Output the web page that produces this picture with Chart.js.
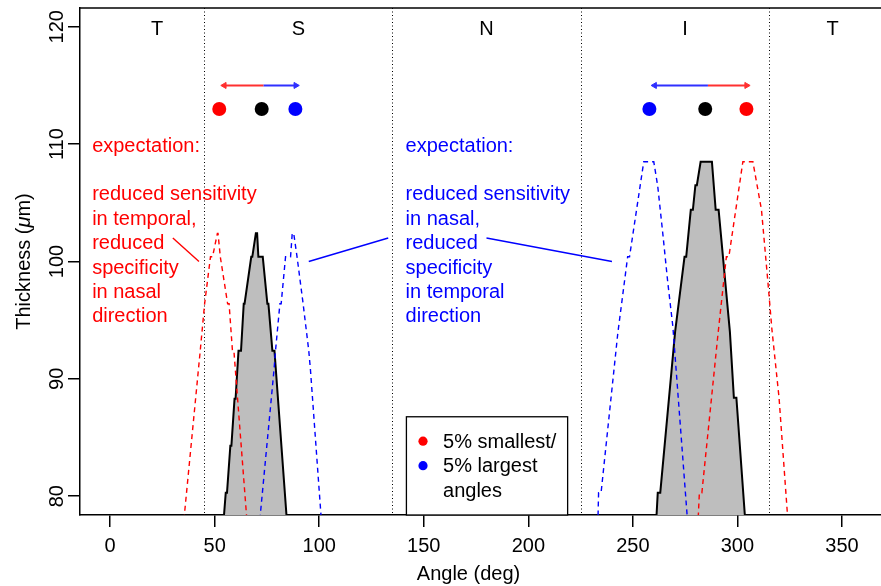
<!DOCTYPE html>
<html>
<head>
<meta charset="utf-8">
<style>
  html, body { margin: 0; padding: 0; background: #fff; overflow: hidden; }
</style>
<script src="https://cdn.jsdelivr.net/npm/chart.js@4"></script>
</head>
<body>
<canvas id="myChart" width="900" height="586"></canvas>
<script>
// axes
const xTicks = [0, 50, 100, 150, 200, 250, 300, 350];
const yTicks = [80, 90, 100, 110, 120];
const sectorBounds = [45, 135, 225, 315];
const sectorNames = ['T', 'S', 'N', 'I', 'T'];
const sectorCenters = [22.5, 90, 180, 275, 345.5];

// mean thickness profile (grey)
const grayAngles = [54.3, 55.3, 55.9, 57.5, 58.0, 59.5, 60.0, 61.4, 62.6, 63.9, 64.3, 67.5, 68.0, 69.7, 70.3, 70.9, 73.0, 75.2, 75.7, 77.6, 78.6, 84.5,
  261.2, 261.9, 263.1, 270.2, 274.7, 275.5, 277.7, 278.7, 279.9, 280.6, 282.4, 287.8, 289.6, 291.0, 296.4, 298.3, 299.5, 303.7];
const grayThickness = [78.0, 80.3, 80.3, 84.3, 84.3, 88.3, 88.3, 92.4, 92.4, 96.4, 96.4, 100.4, 100.4, 102.4, 102.4, 100.4, 100.4, 96.4, 96.4, 92.4, 92.4, 78.0,
  78.0, 80.3, 80.3, 94.0, 100.4, 100.4, 104.4, 104.4, 106.5, 106.5, 108.5, 108.5, 104.4, 104.4, 94.0, 88.4, 88.4, 78.0];

// 5% smallest angles (red dashed)
const redAngles = [35.3, 43.1, 45.2, 48.0, 49.0, 51.3, 51.6, 52.7, 56.2, 56.9, 58.5, 59.2, 65.4,
  281.2, 281.8, 283.0, 290.7, 294.7, 295.9, 302.6, 307.4, 311.5, 314.6, 316.5, 319.9, 324.1];
const redThickness = [78.0, 92.4, 96.4, 100.4, 100.4, 102.4, 102.4, 100.4, 96.4, 96.4, 92.4, 92.4, 78.0,
  78.0, 80.3, 80.3, 93.8, 100.4, 100.4, 108.5, 108.5, 104.4, 98.2, 94.2, 88.4, 78.0];

// 5% largest angles (blue dashed)
const blueAngles = [71.6, 78.4, 79.1, 81.2, 81.8, 83.9, 86.3, 87.1, 87.8, 89.4, 92.3, 95.0, 95.8, 101.0,
  233.3, 233.6, 234.8, 242.8, 247.5, 248.4, 255.2, 260.0, 261.9, 264.3, 266.7, 269.1, 276.1];
const blueThickness = [78.0, 90.8, 92.4, 96.4, 96.4, 100.4, 100.4, 102.4, 102.4, 100.4, 96.4, 92.4, 90.8, 78.0,
  78.0, 80.3, 80.3, 93.9, 100.4, 100.4, 108.5, 108.5, 106.4, 102.4, 98.2, 94.5, 78.0];

// peak positions and shift arrows
const dotAngles = [52.2, 72.5, 88.6, 257.9, 284.6, 304.3];
const dotLevel = 113;
const dotColors = ['#ff0000', '#000000', '#0000ff', '#0000ff', '#000000', '#ff0000'];
const arrowFrom = [73.3, 73.3, 285.9, 285.9];
const arrowTo = [54.6, 88.8, 260.4, 304.4];
const arrowLevel = 115;
const arrowColors = ['#ff3030', '#3030ff', '#3030ff', '#ff3030'];

// pointer lines from the notes
const redPointerX = [30, 42.5];
const redPointerY = [102, 100];
const bluePointerX = [95, 133, 150, 180, 240];
const bluePointerY = [100, 102, null, 102, 100];

const redNote = ['expectation:', '', 'reduced sensitivity', 'in temporal,', 'reduced', 'specificity', 'in nasal', 'direction'];
const blueNote = ['expectation:', '', 'reduced sensitivity', 'in nasal,', 'reduced', 'specificity', 'in temporal', 'direction'];
const legendLabels = ['5% smallest/', '5% largest', 'angles'];
const legendDots = ['#ff0000', '#0000ff', null];

const FONT = '"Liberation Sans", Arial, Helvetica, sans-serif';

function pts(xs, ys) {
  return xs.map((x, i) => ({ x: x, y: ys[i] }));
}

const arrowSets = arrowFrom.map((f, i) => ({
  data: pts([f, arrowTo[i]], [arrowLevel, arrowLevel]),
  borderColor: arrowColors[i],
  backgroundColor: arrowColors[i],
  borderWidth: 2,
  pointStyle: 'triangle',
  pointRadius: [0, 3.5],
  pointRotation: [0, arrowTo[i] < f ? 270 : 90],
  pointBorderWidth: 1,
  fill: false,
  order: 1,
  clip: 0
}));

const decor = {
  id: 'decor',
  beforeDatasetsDraw(chart) {
    const { ctx, chartArea: a, scales: { x } } = chart;
    ctx.save();
    ctx.strokeStyle = '#000';
    ctx.lineWidth = 1;
    ctx.setLineDash([1, 2.5]);
    sectorBounds.forEach(v => {
      const px = Math.round(x.getPixelForValue(v)) + 0.5;
      ctx.beginPath();
      ctx.moveTo(px, a.top);
      ctx.lineTo(px, a.bottom);
      ctx.stroke();
    });
    ctx.restore();
  },
  afterDatasetsDraw(chart) {
    const { ctx, chartArea: a, scales: { x, y } } = chart;
    ctx.save();
    ctx.font = '20px ' + FONT;
    ctx.textBaseline = 'alphabetic';

    // sector names
    ctx.fillStyle = '#000';
    ctx.textAlign = 'center';
    sectorNames.forEach((s, i) => ctx.fillText(s, x.getPixelForValue(sectorCenters[i]), a.top + 27));

    // notes
    ctx.textAlign = 'left';
    const base = y.getPixelForValue(109.35);
    ctx.fillStyle = '#ff0000';
    redNote.forEach((s, i) => ctx.fillText(s, x.getPixelForValue(-8.6), base + i * 24.35));
    ctx.fillStyle = '#0000ff';
    blueNote.forEach((s, i) => ctx.fillText(s, x.getPixelForValue(141.3), base + i * 24.35));

    // legend
    const lx0 = x.getPixelForValue(141.7), lx1 = x.getPixelForValue(218.8);
    const ly0 = y.getPixelForValue(86.77);
    ctx.fillStyle = '#fff';
    ctx.fillRect(lx0, ly0, lx1 - lx0, a.bottom - ly0);
    ctx.strokeStyle = '#000';
    ctx.lineWidth = 1.3;
    ctx.strokeRect(lx0, ly0, lx1 - lx0, a.bottom - ly0);
    legendLabels.forEach((s, i) => {
      const yy = ly0 + 31 + i * 24.5;
      if (legendDots[i]) {
        ctx.fillStyle = legendDots[i];
        ctx.beginPath();
        ctx.arc(lx0 + 16.6, yy - 6.6, 4.6, 0, Math.PI * 2);
        ctx.fill();
      }
      ctx.fillStyle = '#000';
      ctx.fillText(s, lx0 + 36.6, yy);
    });
    ctx.restore();
  },
  afterDraw(chart) {
    const { ctx, chartArea: a, scales: { x, y } } = chart;
    ctx.save();
    ctx.strokeStyle = '#000';
    ctx.lineWidth = 1.5;
    ctx.beginPath();
    ctx.moveTo(a.left, a.top);
    ctx.lineTo(a.right, a.top);
    ctx.stroke();

    ctx.font = '20px ' + FONT;
    ctx.fillStyle = '#000';
    ctx.textAlign = 'center';
    ctx.textBaseline = 'alphabetic';
    xTicks.forEach(v => ctx.fillText(String(v), x.getPixelForValue(v), a.bottom + 36.5));
    ctx.fillText('Angle (deg)', x.getPixelForValue(171.4), a.bottom + 65);

    yTicks.forEach(v => {
      ctx.save();
      ctx.translate(a.left - 17, y.getPixelForValue(v));
      ctx.rotate(-Math.PI / 2);
      ctx.fillText(String(v), 0, 0);
      ctx.restore();
    });

    // y title with italic mu
    const parts = [['Thickness (', ''], ['\u03bc', 'italic '], ['m)', '']];
    let total = 0;
    parts.forEach(p => { ctx.font = p[1] + '20px ' + FONT; total += ctx.measureText(p[0]).width; });
    ctx.translate(29.5, (a.top + a.bottom) / 2);
    ctx.rotate(-Math.PI / 2);
    ctx.textAlign = 'left';
    let cx = -total / 2;
    parts.forEach(p => {
      ctx.font = p[1] + '20px ' + FONT;
      ctx.fillText(p[0], cx, 0);
      cx += ctx.measureText(p[0]).width;
    });
    ctx.restore();
  }
};

new Chart(document.getElementById('myChart'), {
  type: 'line',
  data: {
    datasets: [
      {
        data: pts(grayAngles, grayThickness),
        borderColor: '#000',
        backgroundColor: '#bebebe',
        borderWidth: 2,
        fill: 'start',
        pointRadius: 0,
        order: 4,
        clip: 0
      },
      {
        data: pts(redAngles, redThickness),
        borderColor: '#ff0000',
        borderWidth: 1.4,
        borderDash: [5, 4],
        fill: false,
        pointRadius: 0,
        order: 3,
        clip: 0
      },
      {
        data: pts(blueAngles, blueThickness),
        borderColor: '#0000ff',
        borderWidth: 1.4,
        borderDash: [5, 4],
        fill: false,
        pointRadius: 0,
        order: 3,
        clip: 0
      },
      {
        data: pts(redPointerX, redPointerY),
        borderColor: '#ff0000',
        borderWidth: 1.4,
        fill: false,
        pointRadius: 0,
        order: 2,
        clip: 0
      },
      {
        data: pts(bluePointerX, bluePointerY),
        borderColor: '#0000ff',
        borderWidth: 1.4,
        fill: false,
        pointRadius: 0,
        spanGaps: false,
        order: 2,
        clip: 0
      },
      ...arrowSets,
      {
        data: pts(dotAngles, dotAngles.map(() => dotLevel)),
        showLine: false,
        pointRadius: 7,
        pointBackgroundColor: dotColors,
        pointBorderWidth: 0,
        order: 0,
        clip: 0
      }
    ]
  },
  options: {
    responsive: false,
    animation: false,
    devicePixelRatio: 1,
    layout: { padding: { top: 8, right: 0, left: 0, bottom: 0 } },
    plugins: { legend: { display: false }, tooltip: { enabled: false } },
    elements: { line: { tension: 0 } },
    scales: {
      x: {
        type: 'linear',
        min: -14.4,
        max: 374.4,
        afterBuildTicks: s => { s.ticks = xTicks.map(v => ({ value: v })); },
        afterFit: s => { s.height = 71; s.paddingLeft = 0; s.paddingRight = 0; },
        ticks: { display: false },
        grid: { drawOnChartArea: false, drawTicks: true, tickLength: 12, color: '#000', lineWidth: 1.5 },
        border: { display: true, color: '#000', width: 1.5 }
      },
      y: {
        type: 'linear',
        min: 78.4,
        max: 121.6,
        afterBuildTicks: s => { s.ticks = yTicks.map(v => ({ value: v })); },
        afterFit: s => { s.width = 80; },
        ticks: { display: false },
        grid: { drawOnChartArea: false, drawTicks: true, tickLength: 12, color: '#000', lineWidth: 1.5 },
        border: { display: true, color: '#000', width: 1.5 }
      }
    }
  },
  plugins: [decor]
});
</script>
</body>
</html>
